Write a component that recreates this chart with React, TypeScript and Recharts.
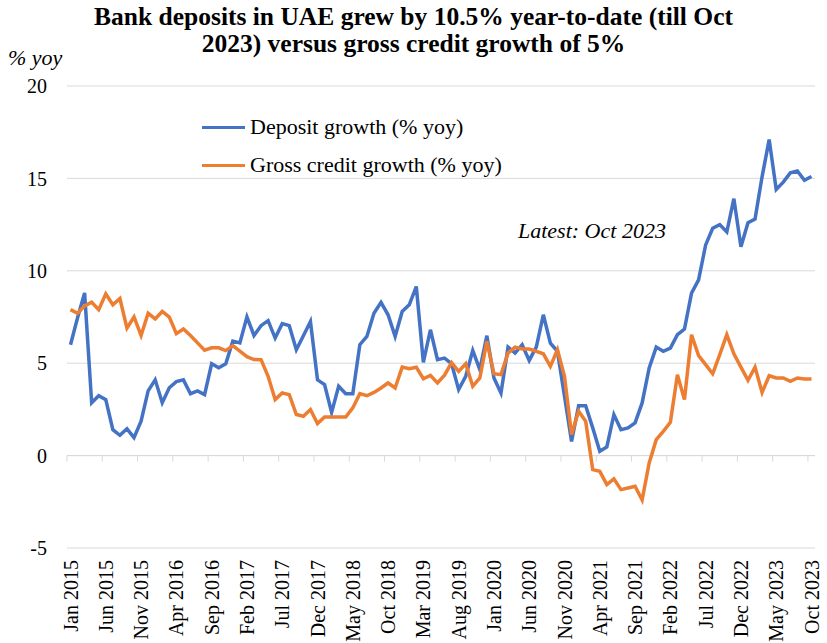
import { CartesianGrid, Legend, Line, LineChart, ReferenceLine, XAxis, YAxis } from 'recharts';

const monthNames = ['Jan', 'Feb', 'Mar', 'Apr', 'May', 'Jun', 'Jul', 'Aug', 'Sep', 'Oct', 'Nov', 'Dec'];
const years = [2015, 2016, 2017, 2018, 2019, 2020, 2021, 2022, 2023];
const lastMonthIndex = 9; // Oct 2023

const depositGrowth = [
    6.0, 7.46, 8.8, 2.86, 3.24, 3.03, 1.4, 1.1, 1.45, 0.97,
    1.86, 3.5, 4.1, 2.86, 3.67, 4.0, 4.1, 3.35, 3.5, 3.3,
    4.97, 4.75, 4.97, 6.2, 6.1, 7.5, 6.5, 7.03, 7.3, 6.36,
    7.14, 7.03, 5.73, 6.49, 7.26, 4.1, 3.84, 2.34, 3.75, 3.35,
    3.35, 6.0, 6.45, 7.7, 8.29, 7.62, 6.45, 7.8, 8.16, 9.15,
    5.04, 6.81, 5.19, 5.28, 4.97, 3.57, 4.29, 5.69, 4.65, 6.49,
    4.2, 3.39, 5.87, 5.55, 6.0, 5.15, 5.87, 7.62, 6.09, 5.64,
    3.21, 0.77, 2.7, 2.7, 1.5, 0.23, 0.47, 2.22, 1.4, 1.5,
    1.77, 2.85, 4.74, 5.87, 5.64, 5.82, 6.54, 6.85, 8.79, 9.51,
    11.4, 12.3, 12.5, 12.1, 13.9, 11.3, 12.6, 12.8, 15.1, 17.1,
    14.4, 14.8, 15.3, 15.4, 14.9, 15.1
];

const grossCreditGrowth = [
    7.9, 7.7, 8.1, 8.3, 7.9, 8.75, 8.16, 8.5, 6.9, 7.5,
    6.5, 7.7, 7.4, 7.8, 7.5, 6.6, 6.85, 6.5, 6.1, 5.7,
    5.83, 5.83, 5.68, 5.95, 5.65, 5.35, 5.2, 5.19, 4.29, 3.03,
    3.39, 3.3, 2.22, 2.13, 2.49, 1.73, 2.09, 2.09, 2.09, 2.09,
    2.58, 3.35, 3.24, 3.42, 3.66, 3.93, 3.66, 4.79, 4.7, 4.78,
    4.16, 4.34, 3.93, 4.35, 5.03, 4.56, 4.97, 3.75, 4.2, 6.18,
    4.43, 4.38, 5.55, 5.87, 5.77, 5.77, 5.64, 5.51, 4.83, 5.73,
    4.29, 1.14, 2.4, 1.86, -0.76, -0.85, -1.57, -1.26, -1.84, -1.75,
    -1.66, -2.4, -0.4, 0.86, 1.31, 1.8, 4.38, 3.03, 6.54, 5.41,
    4.92, 4.43, 5.46, 6.54, 5.51, 4.79, 4.07, 4.79, 3.42, 4.32,
    4.2, 4.2, 4.02, 4.2, 4.14, 4.14
];

const yTicks = [-5, 0, 5, 10, 15, 20];

const months: string[] = [];
years.forEach((y, yi) => {
    monthNames.forEach((m, mi) => {
        if (yi === years.length - 1 && mi > lastMonthIndex) return;
        months.push(`${m} ${y}`);
    });
});

const data = months.map((month, i) => ({
    month,
    deposit: depositGrowth[i],
    credit: grossCreditGrowth[i]
}));

const FONT = '"Liberation Serif", "Times New Roman", serif';
const BLUE = '#4472C4';
const ORANGE = '#ED7D31';

function MonthTick({ x, y, payload }: any) {
    return (
        <g transform={`translate(${x},${y})`}>
            <text transform='rotate(-90)' textAnchor='end' dy='0.35em' fontFamily={FONT} fontSize={20} fill='#000'>
                {payload.value}
            </text>
        </g>
    );
}

function ZeroAxis(props: any) {
    const { x1, x2, y1 } = props;
    const left = Math.min(x1, x2);
    const right = Math.max(x1, x2);
    const band = (right - left) / months.length;
    const ticks = [];
    for (let i = 0; i < months.length; i += 5) {
        const tx = left + i * band;
        ticks.push(<line key={i} x1={tx} x2={tx} y1={y1} y2={y1 + 6} stroke='#d9d9d9' strokeWidth={1} />);
    }
    return (
        <g>
            <line x1={left} x2={right} y1={y1} y2={y1} stroke='#d9d9d9' strokeWidth={1} />
            {ticks}
        </g>
    );
}

function LegendBox() {
    const items = [
        { label: 'Deposit growth (% yoy)', color: BLUE },
        { label: 'Gross credit growth (% yoy)', color: ORANGE }
    ];
    return (
        <div style={{ fontFamily: FONT, fontSize: 22, color: '#000' }}>
            {items.map((it) => (
                <div key={it.label} style={{ display: 'flex', alignItems: 'center', height: 38 }}>
                    <span style={{ display: 'inline-block', width: 43, height: 3, background: it.color, marginRight: 5 }} />
                    <span>{it.label}</span>
                </div>
            ))}
        </div>
    );
}

function App() {
    return (
        <div style={{ position: 'absolute', left: 0, top: 0, width: 827, height: 643, background: '#fff', fontFamily: FONT }}>
            <div style={{ position: 'absolute', left: 0, top: 3, width: 827, textAlign: 'center', fontWeight: 'bold', fontSize: 25.5, lineHeight: '27px' }}>
                Bank deposits in UAE grew by 10.5% year-to-date (till Oct<br />
                2023) versus gross credit growth of 5%
            </div>
            <div style={{ position: 'absolute', left: 8, top: 45, fontStyle: 'italic', fontSize: 22 }}>% yoy</div>
            <div style={{ position: 'absolute', left: 518, top: 218, fontStyle: 'italic', fontSize: 22 }}>Latest: Oct 2023</div>
            <LineChart
                width={827}
                height={643}
                data={data}
                margin={{ top: 86, right: 12, left: 0, bottom: 0 }}
            >
                <CartesianGrid vertical={false} stroke='#d9d9d9' />
                <XAxis
                    dataKey='month'
                    interval={4}
                    height={95}
                    padding={{ left: 3.5, right: 3.5 }}
                    axisLine={false}
                    tickLine={false}
                    tickSize={0}
                    tickMargin={12}
                    tick={<MonthTick />}
                />
                <YAxis
                    domain={[-5, 20]}
                    ticks={yTicks}
                    width={67}
                    axisLine={false}
                    tickLine={false}
                    tickSize={0}
                    tickMargin={20}
                    tick={{ fontFamily: FONT, fontSize: 20, fill: '#000' }}
                />
                <ReferenceLine y={0} shape={<ZeroAxis />} />
                <Legend
                    layout='vertical'
                    align='center'
                    verticalAlign='middle'
                    content={<LegendBox />}
                    wrapperStyle={{ position: 'absolute', left: 202, top: 108, width: 340 }}
                />
                <Line type='linear' dataKey='deposit' stroke={BLUE} strokeWidth={3.5} dot={false} isAnimationActive={false} />
                <Line type='linear' dataKey='credit' stroke={ORANGE} strokeWidth={3.5} dot={false} isAnimationActive={false} />
            </LineChart>
        </div>
    );
}

export default App;
